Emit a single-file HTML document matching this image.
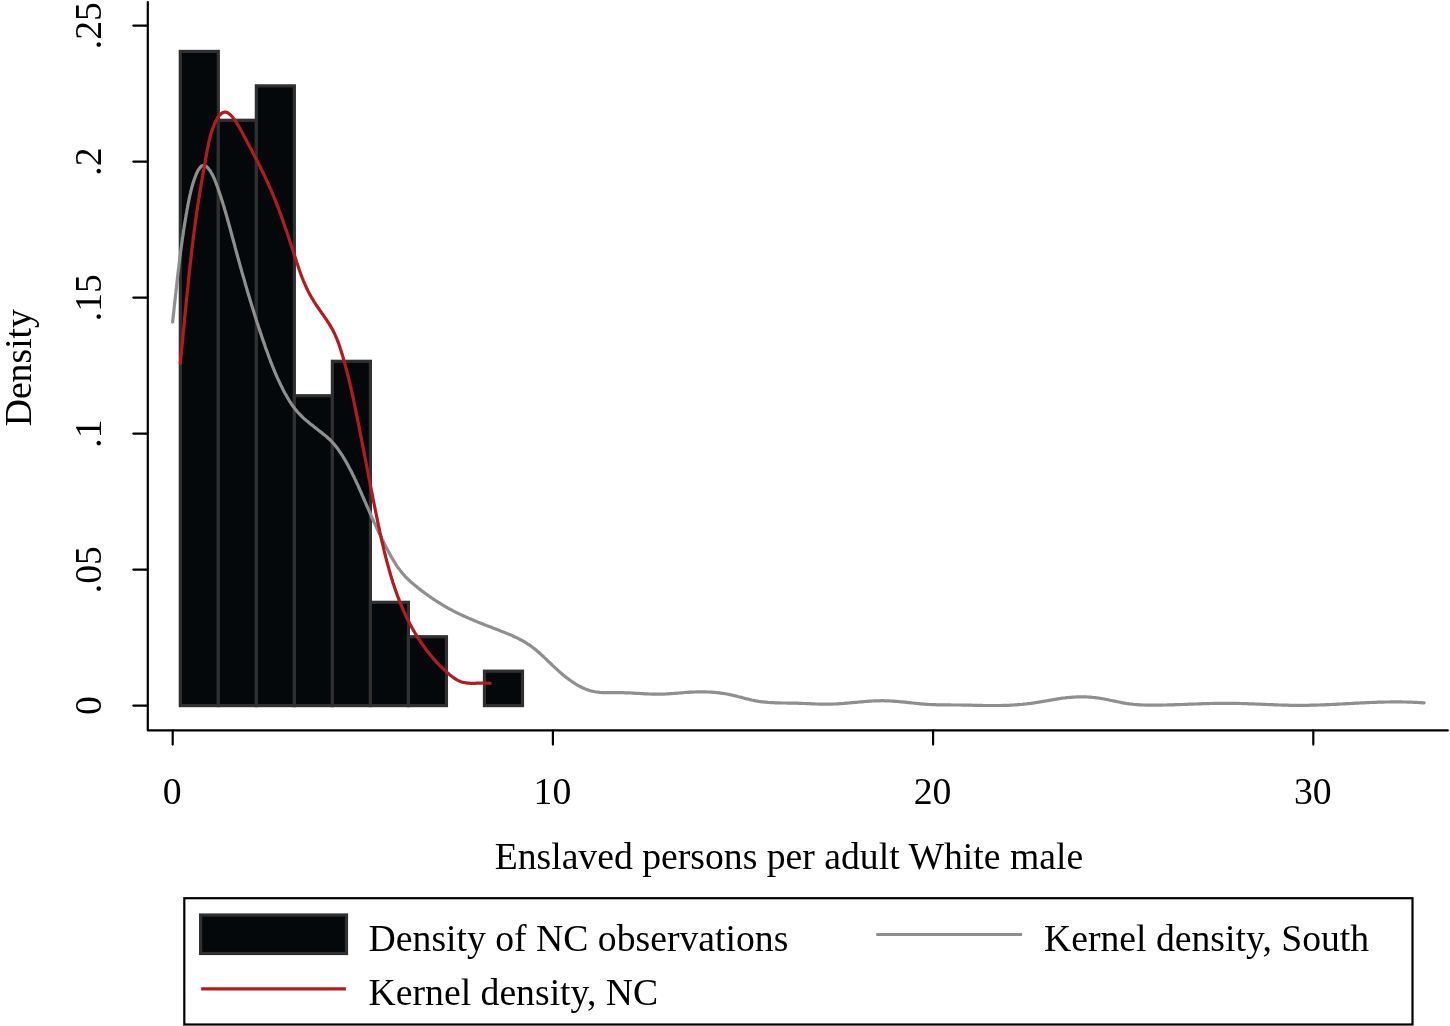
<!DOCTYPE html>
<html><head><meta charset="utf-8"><title>Density chart</title>
<style>
html,body{margin:0;padding:0;background:#fff;}
body{width:1450px;height:1026px;overflow:hidden;}
svg{display:block;will-change:transform;}
text{font-family:"Liberation Serif",serif;font-size:37.7px;fill:#000;}
.ax{stroke:#000;stroke-width:2.2;stroke-linecap:round;stroke-linejoin:round;}
.bars rect{fill:#04080a;stroke:#303030;stroke-width:3.2;}
</style></head>
<body>
<svg width="1450" height="1026" viewBox="0 0 1450 1026">
<rect x="0" y="0" width="1450" height="1026" fill="#fff"/>
<g class="bars">
<rect x="180.30" y="51.42" width="38.02" height="654.18"/>
<rect x="218.32" y="120.28" width="38.02" height="585.32"/>
<rect x="256.34" y="85.85" width="38.02" height="619.75"/>
<rect x="294.36" y="395.73" width="38.02" height="309.87"/>
<rect x="332.38" y="361.30" width="38.02" height="344.30"/>
<rect x="370.40" y="602.31" width="38.02" height="103.29"/>
<rect x="408.42" y="636.74" width="38.02" height="68.86"/>
<rect x="484.46" y="671.17" width="38.02" height="34.43"/>
</g>
<path d="M172.6,322.0 L172.8,320.5 L172.9,319.0 L173.1,317.5 L173.3,316.0 L173.4,314.5 L173.6,313.0 L173.8,311.5 L173.9,310.1 L174.1,308.6 L174.2,307.1 L174.4,305.6 L174.6,304.1 L174.7,302.6 L174.9,301.1 L175.1,299.6 L175.2,298.1 L175.4,296.6 L175.5,295.2 L175.7,293.7 L175.9,292.2 L176.0,290.7 L176.2,289.2 L176.4,287.7 L176.5,286.2 L176.7,284.7 L176.9,283.3 L177.0,281.8 L177.2,280.3 L177.4,278.8 L177.5,277.3 L177.7,275.8 L177.9,274.3 L178.0,272.9 L178.2,271.4 L178.4,269.9 L178.6,268.4 L178.8,266.9 L178.9,265.4 L179.1,263.9 L179.3,262.5 L179.5,261.0 L179.7,259.5 L179.8,258.0 L180.0,256.5 L180.2,255.0 L180.4,253.6 L180.6,252.1 L180.8,250.6 L181.0,249.1 L181.2,247.6 L181.4,246.1 L181.6,244.7 L181.8,243.2 L182.0,241.7 L182.2,240.2 L182.4,238.7 L182.6,237.2 L182.9,235.8 L183.1,234.3 L183.3,232.8 L183.5,231.3 L183.7,229.8 L184.0,228.3 L184.2,226.9 L184.4,225.4 L184.7,223.9 L184.9,222.4 L185.2,220.9 L185.4,219.4 L185.6,217.9 L185.9,216.5 L186.1,215.0 L186.4,213.5 L186.7,212.0 L186.9,210.5 L187.2,209.0 L187.5,207.5 L187.7,206.1 L188.0,204.6 L188.3,203.1 L188.6,201.6 L188.9,200.1 L189.2,198.7 L189.5,197.2 L189.8,195.7 L190.1,194.3 L190.5,192.8 L190.8,191.4 L191.2,189.9 L191.5,188.5 L191.9,187.1 L192.3,185.7 L192.7,184.3 L193.1,182.9 L193.6,181.6 L194.0,180.2 L194.5,178.9 L195.0,177.5 L195.5,176.2 L196.0,174.8 L196.7,173.3 L197.4,171.8 L198.1,170.3 L199.1,168.9 L200.1,167.5 L201.2,166.4 L202.4,165.6 L203.6,165.3 L204.8,165.5 L206.0,166.1 L207.2,167.2 L208.3,168.4 L209.3,169.8 L210.3,171.1 L211.1,172.5 L211.9,173.8 L212.6,175.1 L213.3,176.5 L213.9,177.8 L214.5,179.2 L215.0,180.5 L215.5,181.8 L216.1,183.2 L216.6,184.6 L217.1,186.0 L217.6,187.3 L218.1,188.7 L218.6,190.2 L219.0,191.6 L219.5,193.0 L220.0,194.4 L220.5,195.8 L221.0,197.3 L221.4,198.7 L221.9,200.1 L222.3,201.6 L222.8,203.0 L223.2,204.4 L223.7,205.9 L224.1,207.3 L224.5,208.7 L224.9,210.2 L225.4,211.6 L225.8,213.0 L226.2,214.5 L226.6,215.9 L227.0,217.4 L227.4,218.8 L227.8,220.2 L228.2,221.7 L228.6,223.1 L229.0,224.6 L229.4,226.0 L229.8,227.5 L230.2,228.9 L230.6,230.4 L231.0,231.8 L231.4,233.3 L231.8,234.7 L232.1,236.2 L232.5,237.6 L232.9,239.0 L233.3,240.5 L233.7,241.9 L234.1,243.4 L234.5,244.8 L234.9,246.3 L235.2,247.7 L235.6,249.2 L236.0,250.6 L236.4,252.1 L236.8,253.5 L237.2,255.0 L237.6,256.4 L238.0,257.9 L238.4,259.3 L238.8,260.7 L239.2,262.2 L239.6,263.6 L240.0,265.1 L240.4,266.5 L240.8,268.0 L241.2,269.4 L241.6,270.8 L242.0,272.3 L242.4,273.7 L242.8,275.2 L243.2,276.6 L243.7,278.1 L244.1,279.5 L244.5,280.9 L244.9,282.4 L245.3,283.8 L245.7,285.3 L246.2,286.7 L246.6,288.1 L247.0,289.6 L247.4,291.0 L247.8,292.5 L248.3,293.9 L248.7,295.3 L249.1,296.8 L249.6,298.2 L250.0,299.6 L250.4,301.1 L250.9,302.5 L251.3,303.9 L251.7,305.4 L252.2,306.8 L252.6,308.2 L253.1,309.7 L253.5,311.1 L254.0,312.5 L254.4,314.0 L254.9,315.4 L255.3,316.8 L255.8,318.2 L256.2,319.7 L256.7,321.1 L257.1,322.5 L257.6,323.9 L258.1,325.4 L258.5,326.8 L259.0,328.2 L259.5,329.6 L259.9,331.1 L260.4,332.5 L260.9,333.9 L261.4,335.3 L261.8,336.8 L262.3,338.2 L262.8,339.6 L263.3,341.0 L263.8,342.4 L264.3,343.8 L264.8,345.3 L265.2,346.7 L265.7,348.1 L266.2,349.5 L266.8,350.9 L267.3,352.3 L267.8,353.7 L268.3,355.1 L268.8,356.5 L269.3,357.9 L269.9,359.3 L270.4,360.7 L270.9,362.1 L271.5,363.5 L272.0,364.9 L272.6,366.3 L273.1,367.7 L273.7,369.1 L274.3,370.5 L274.8,371.9 L275.4,373.2 L276.0,374.6 L276.6,376.0 L277.2,377.4 L277.8,378.7 L278.5,380.1 L279.1,381.4 L279.7,382.8 L280.4,384.2 L281.0,385.5 L281.7,386.8 L282.4,388.2 L283.0,389.5 L283.7,390.9 L284.4,392.2 L285.1,393.5 L285.9,394.8 L286.6,396.1 L287.3,397.4 L288.1,398.7 L288.9,400.0 L289.7,401.3 L290.5,402.5 L291.3,403.8 L292.1,405.0 L293.0,406.2 L293.9,407.4 L294.8,408.6 L295.7,409.8 L296.7,410.9 L297.6,412.0 L298.6,413.1 L299.7,414.2 L300.7,415.3 L301.8,416.3 L302.8,417.4 L303.9,418.4 L305.1,419.4 L306.2,420.4 L307.3,421.3 L308.5,422.3 L309.6,423.3 L310.8,424.2 L312.0,425.1 L313.2,426.1 L314.3,427.0 L315.5,427.9 L316.7,428.8 L317.9,429.8 L319.1,430.7 L320.3,431.6 L321.5,432.5 L322.6,433.4 L323.8,434.4 L324.9,435.3 L326.1,436.3 L327.2,437.3 L328.3,438.3 L329.4,439.3 L330.5,440.3 L331.5,441.4 L332.5,442.4 L333.5,443.6 L334.5,444.7 L335.4,445.9 L336.4,447.0 L337.3,448.2 L338.2,449.4 L339.0,450.7 L339.9,451.9 L340.7,453.2 L341.6,454.4 L342.4,455.7 L343.2,457.0 L343.9,458.2 L344.7,459.5 L345.5,460.8 L346.2,462.1 L347.0,463.4 L347.7,464.7 L348.4,466.0 L349.1,467.4 L349.8,468.7 L350.5,470.0 L351.2,471.3 L351.9,472.7 L352.5,474.0 L353.2,475.4 L353.9,476.7 L354.5,478.1 L355.1,479.4 L355.8,480.8 L356.4,482.2 L357.0,483.5 L357.7,484.9 L358.3,486.2 L358.9,487.6 L359.5,489.0 L360.1,490.4 L360.7,491.7 L361.3,493.1 L361.9,494.5 L362.5,495.9 L363.1,497.2 L363.7,498.6 L364.3,500.0 L364.9,501.4 L365.5,502.7 L366.1,504.1 L366.7,505.5 L367.3,506.8 L367.9,508.2 L368.5,509.6 L369.1,510.9 L369.7,512.3 L370.3,513.7 L370.9,515.0 L371.5,516.4 L372.1,517.8 L372.7,519.1 L373.3,520.5 L373.9,521.9 L374.6,523.2 L375.2,524.6 L375.8,525.9 L376.4,527.3 L377.1,528.6 L377.7,530.0 L378.3,531.4 L379.0,532.7 L379.6,534.1 L380.3,535.4 L380.9,536.8 L381.6,538.1 L382.2,539.4 L382.9,540.8 L383.6,542.1 L384.3,543.5 L384.9,544.8 L385.6,546.2 L386.3,547.5 L387.0,548.8 L387.7,550.2 L388.4,551.5 L389.1,552.8 L389.8,554.1 L390.6,555.5 L391.3,556.8 L392.0,558.1 L392.8,559.4 L393.6,560.7 L394.4,562.0 L395.2,563.2 L396.0,564.5 L396.8,565.8 L397.6,567.0 L398.5,568.2 L399.4,569.4 L400.3,570.6 L401.2,571.8 L402.2,572.9 L403.1,574.1 L404.1,575.2 L405.1,576.3 L406.1,577.3 L407.2,578.4 L408.2,579.4 L409.3,580.5 L410.4,581.5 L411.5,582.5 L412.7,583.4 L413.8,584.4 L414.9,585.4 L416.1,586.3 L417.3,587.3 L418.4,588.2 L419.6,589.1 L420.8,590.1 L422.0,591.0 L423.2,591.9 L424.4,592.8 L425.6,593.7 L426.9,594.5 L428.1,595.4 L429.3,596.3 L430.5,597.1 L431.8,598.0 L433.0,598.8 L434.3,599.7 L435.5,600.5 L436.8,601.3 L438.1,602.1 L439.3,602.9 L440.6,603.7 L441.9,604.5 L443.2,605.3 L444.5,606.0 L445.8,606.8 L447.1,607.5 L448.4,608.3 L449.7,609.0 L451.0,609.7 L452.3,610.4 L453.7,611.1 L455.0,611.8 L456.3,612.5 L457.7,613.1 L459.0,613.8 L460.4,614.4 L461.7,615.1 L463.1,615.7 L464.4,616.3 L465.8,616.9 L467.2,617.5 L468.5,618.1 L469.9,618.7 L471.3,619.3 L472.7,619.9 L474.0,620.5 L475.4,621.0 L476.8,621.6 L478.2,622.2 L479.6,622.7 L481.0,623.3 L482.4,623.8 L483.7,624.4 L485.1,624.9 L486.5,625.5 L487.9,626.0 L489.3,626.6 L490.7,627.1 L492.1,627.6 L493.5,628.2 L494.9,628.7 L496.3,629.3 L497.7,629.8 L499.1,630.3 L500.5,630.9 L501.9,631.4 L503.3,632.0 L504.7,632.5 L506.1,633.1 L507.5,633.7 L508.9,634.2 L510.3,634.8 L511.7,635.4 L513.0,636.0 L514.4,636.7 L515.7,637.3 L517.1,637.9 L518.4,638.6 L519.8,639.3 L521.1,640.0 L522.4,640.7 L523.7,641.4 L525.0,642.2 L526.3,643.0 L527.5,643.8 L528.8,644.6 L530.0,645.4 L531.2,646.3 L532.4,647.2 L533.6,648.1 L534.8,649.0 L536.0,650.0 L537.1,651.0 L538.3,652.0 L539.4,653.0 L540.5,654.0 L541.6,655.0 L542.8,656.0 L543.9,657.1 L545.0,658.1 L546.0,659.1 L547.1,660.2 L548.2,661.2 L549.3,662.3 L550.4,663.3 L551.5,664.3 L552.5,665.4 L553.6,666.4 L554.7,667.4 L555.8,668.4 L556.9,669.4 L558.0,670.4 L559.1,671.4 L560.2,672.4 L561.3,673.3 L562.4,674.3 L563.5,675.2 L564.7,676.2 L565.8,677.1 L567.0,678.0 L568.2,678.9 L569.4,679.8 L570.6,680.7 L571.9,681.5 L573.1,682.4 L574.4,683.2 L575.7,684.0 L577.0,684.8 L578.4,685.6 L579.7,686.3 L581.1,687.0 L582.4,687.7 L583.8,688.3 L585.2,688.9 L586.7,689.5 L588.1,690.0 L589.5,690.5 L590.9,690.9 L592.4,691.2 L593.8,691.5 L595.3,691.8 L596.8,692.0 L598.2,692.2 L599.7,692.4 L601.2,692.5 L602.7,692.6 L604.1,692.6 L605.6,692.7 L607.1,692.7 L608.6,692.7 L610.1,692.7 L611.6,692.7 L613.1,692.7 L614.6,692.7 L616.1,692.7 L617.6,692.7 L619.1,692.7 L620.6,692.7 L622.1,692.7 L623.6,692.7 L625.1,692.8 L626.6,692.8 L628.1,692.9 L629.6,692.9 L631.1,693.0 L632.6,693.1 L634.1,693.2 L635.6,693.3 L637.1,693.3 L638.6,693.4 L640.1,693.5 L641.6,693.6 L643.1,693.7 L644.6,693.8 L646.1,693.8 L647.5,693.9 L649.0,694.0 L650.5,694.0 L652.0,694.1 L653.5,694.1 L655.0,694.2 L656.5,694.2 L658.0,694.2 L659.5,694.2 L661.0,694.1 L662.5,694.1 L664.0,694.1 L665.5,694.0 L667.0,693.9 L668.5,693.8 L670.0,693.7 L671.5,693.6 L673.0,693.5 L674.5,693.4 L676.0,693.3 L677.5,693.1 L679.0,693.0 L680.4,692.9 L681.9,692.8 L683.4,692.7 L684.9,692.5 L686.4,692.4 L687.9,692.3 L689.4,692.2 L690.9,692.2 L692.4,692.1 L693.9,692.0 L695.4,692.0 L696.9,691.9 L698.4,691.9 L699.9,691.9 L701.4,691.9 L702.9,691.9 L704.4,691.9 L705.9,691.9 L707.4,692.0 L708.9,692.0 L710.4,692.1 L711.8,692.2 L713.3,692.3 L714.8,692.4 L716.3,692.6 L717.8,692.7 L719.3,692.9 L720.8,693.1 L722.2,693.3 L723.7,693.5 L725.2,693.7 L726.7,694.0 L728.1,694.3 L729.6,694.6 L731.1,694.9 L732.5,695.2 L734.0,695.6 L735.5,695.9 L736.9,696.3 L738.4,696.7 L739.9,697.0 L741.3,697.4 L742.8,697.8 L744.2,698.2 L745.7,698.6 L747.2,698.9 L748.6,699.3 L750.1,699.6 L751.5,700.0 L753.0,700.3 L754.5,700.6 L756.0,700.9 L757.4,701.1 L758.9,701.4 L760.4,701.6 L761.9,701.8 L763.4,701.9 L764.8,702.1 L766.3,702.2 L767.8,702.4 L769.3,702.5 L770.8,702.6 L772.3,702.7 L773.8,702.7 L775.3,702.8 L776.8,702.8 L778.3,702.9 L779.8,702.9 L781.3,703.0 L782.8,703.0 L784.3,703.0 L785.8,703.0 L787.3,703.1 L788.8,703.1 L790.3,703.1 L791.8,703.1 L793.3,703.1 L794.8,703.2 L796.3,703.2 L797.8,703.2 L799.3,703.3 L800.8,703.3 L802.3,703.4 L803.8,703.5 L805.3,703.5 L806.8,703.6 L808.3,703.7 L809.8,703.7 L811.3,703.8 L812.8,703.9 L814.3,703.9 L815.8,704.0 L817.3,704.0 L818.8,704.1 L820.3,704.1 L821.8,704.2 L823.3,704.2 L824.8,704.2 L826.3,704.2 L827.7,704.2 L829.2,704.2 L830.7,704.1 L832.2,704.1 L833.7,704.0 L835.2,704.0 L836.7,703.9 L838.2,703.8 L839.7,703.7 L841.2,703.6 L842.7,703.5 L844.2,703.4 L845.7,703.2 L847.2,703.1 L848.7,703.0 L850.2,702.8 L851.7,702.7 L853.2,702.6 L854.7,702.4 L856.2,702.3 L857.7,702.2 L859.1,702.0 L860.6,701.9 L862.1,701.8 L863.6,701.6 L865.1,701.5 L866.6,701.4 L868.1,701.3 L869.6,701.2 L871.1,701.1 L872.6,701.0 L874.1,700.9 L875.6,700.9 L877.1,700.8 L878.6,700.8 L880.1,700.8 L881.6,700.7 L883.1,700.7 L884.6,700.8 L886.1,700.8 L887.6,700.8 L889.1,700.9 L890.6,701.0 L892.0,701.1 L893.5,701.2 L895.0,701.3 L896.5,701.4 L898.0,701.5 L899.5,701.7 L901.0,701.8 L902.5,701.9 L904.0,702.1 L905.5,702.2 L907.0,702.4 L908.5,702.6 L910.0,702.7 L911.5,702.9 L913.0,703.0 L914.5,703.2 L916.0,703.3 L917.5,703.5 L919.0,703.6 L920.5,703.8 L921.9,703.9 L923.4,704.1 L924.9,704.2 L926.4,704.3 L927.9,704.4 L929.4,704.5 L930.9,704.6 L932.4,704.6 L933.9,704.7 L935.4,704.7 L936.9,704.8 L938.4,704.8 L939.9,704.8 L941.4,704.9 L942.9,704.9 L944.4,704.9 L945.9,704.9 L947.4,704.9 L948.9,704.9 L950.3,704.9 L951.8,705.0 L953.3,705.0 L954.8,705.0 L956.3,705.0 L957.8,705.0 L959.3,705.0 L960.8,705.0 L962.3,705.1 L963.8,705.1 L965.3,705.1 L966.8,705.1 L968.3,705.2 L969.8,705.2 L971.3,705.2 L972.8,705.3 L974.3,705.3 L975.8,705.3 L977.3,705.4 L978.9,705.4 L980.4,705.4 L981.9,705.4 L983.4,705.5 L984.9,705.5 L986.4,705.5 L987.9,705.5 L989.4,705.5 L990.9,705.5 L992.4,705.5 L993.9,705.5 L995.4,705.5 L996.9,705.5 L998.4,705.5 L999.9,705.5 L1001.4,705.5 L1002.9,705.4 L1004.4,705.4 L1005.9,705.4 L1007.4,705.3 L1008.9,705.3 L1010.3,705.2 L1011.8,705.1 L1013.3,705.0 L1014.8,704.9 L1016.3,704.8 L1017.8,704.7 L1019.3,704.6 L1020.8,704.5 L1022.3,704.4 L1023.8,704.2 L1025.3,704.0 L1026.7,703.9 L1028.2,703.7 L1029.7,703.5 L1031.2,703.3 L1032.7,703.1 L1034.2,702.9 L1035.6,702.6 L1037.1,702.4 L1038.6,702.2 L1040.1,701.9 L1041.6,701.7 L1043.0,701.4 L1044.5,701.1 L1046.0,700.9 L1047.5,700.6 L1049.0,700.4 L1050.4,700.1 L1051.9,699.9 L1053.4,699.6 L1054.9,699.4 L1056.4,699.1 L1057.8,698.9 L1059.3,698.7 L1060.8,698.4 L1062.3,698.2 L1063.8,698.0 L1065.3,697.9 L1066.7,697.7 L1068.2,697.5 L1069.7,697.4 L1071.2,697.3 L1072.7,697.2 L1074.2,697.1 L1075.7,697.0 L1077.2,696.9 L1078.7,696.9 L1080.2,696.9 L1081.7,696.9 L1083.2,696.9 L1084.7,696.9 L1086.1,696.9 L1087.6,697.0 L1089.1,697.1 L1090.6,697.2 L1092.1,697.3 L1093.6,697.5 L1095.1,697.6 L1096.6,697.8 L1098.1,698.0 L1099.5,698.2 L1101.0,698.5 L1102.5,698.7 L1104.0,699.0 L1105.5,699.3 L1106.9,699.5 L1108.4,699.8 L1109.9,700.2 L1111.4,700.5 L1112.8,700.8 L1114.3,701.1 L1115.8,701.4 L1117.2,701.7 L1118.7,702.0 L1120.2,702.3 L1121.7,702.6 L1123.1,702.9 L1124.6,703.1 L1126.1,703.4 L1127.6,703.6 L1129.1,703.8 L1130.6,704.0 L1132.0,704.2 L1133.5,704.4 L1135.0,704.5 L1136.5,704.6 L1138.0,704.7 L1139.5,704.8 L1141.0,704.9 L1142.5,705.0 L1144.0,705.0 L1145.5,705.1 L1147.0,705.1 L1148.5,705.1 L1150.0,705.2 L1151.5,705.2 L1153.0,705.2 L1154.5,705.2 L1156.0,705.2 L1157.5,705.1 L1159.0,705.1 L1160.5,705.1 L1162.0,705.1 L1163.5,705.0 L1165.0,705.0 L1166.5,705.0 L1168.0,704.9 L1169.5,704.9 L1171.0,704.9 L1172.5,704.8 L1174.0,704.8 L1175.5,704.7 L1177.0,704.7 L1178.5,704.6 L1180.0,704.6 L1181.5,704.5 L1183.0,704.5 L1184.5,704.4 L1186.0,704.3 L1187.4,704.3 L1188.9,704.2 L1190.4,704.2 L1191.9,704.1 L1193.4,704.1 L1194.9,704.0 L1196.4,704.0 L1197.9,703.9 L1199.4,703.8 L1200.9,703.8 L1202.4,703.7 L1203.9,703.7 L1205.4,703.6 L1206.9,703.6 L1208.4,703.6 L1209.9,703.5 L1211.4,703.5 L1212.9,703.4 L1214.4,703.4 L1215.9,703.4 L1217.4,703.4 L1218.9,703.3 L1220.4,703.3 L1221.9,703.3 L1223.4,703.3 L1224.9,703.3 L1226.4,703.3 L1227.9,703.3 L1229.4,703.3 L1230.9,703.3 L1232.4,703.3 L1233.9,703.4 L1235.4,703.4 L1236.9,703.4 L1238.4,703.4 L1239.9,703.5 L1241.3,703.5 L1242.8,703.6 L1244.3,703.6 L1245.8,703.7 L1247.3,703.7 L1248.8,703.8 L1250.3,703.8 L1251.8,703.9 L1253.3,703.9 L1254.8,704.0 L1256.3,704.1 L1257.8,704.1 L1259.3,704.2 L1260.8,704.2 L1262.3,704.3 L1263.8,704.4 L1265.3,704.4 L1266.8,704.5 L1268.3,704.6 L1269.8,704.6 L1271.3,704.7 L1272.8,704.7 L1274.3,704.8 L1275.8,704.9 L1277.3,704.9 L1278.8,705.0 L1280.3,705.0 L1281.8,705.1 L1283.3,705.1 L1284.8,705.2 L1286.3,705.2 L1287.8,705.2 L1289.3,705.3 L1290.8,705.3 L1292.3,705.3 L1293.8,705.3 L1295.3,705.3 L1296.8,705.4 L1298.3,705.4 L1299.8,705.4 L1301.3,705.4 L1302.8,705.4 L1304.3,705.3 L1305.8,705.3 L1307.3,705.3 L1308.8,705.3 L1310.3,705.2 L1311.8,705.2 L1313.3,705.2 L1314.8,705.1 L1316.3,705.1 L1317.8,705.0 L1319.3,705.0 L1320.7,704.9 L1322.2,704.9 L1323.7,704.8 L1325.2,704.8 L1326.7,704.7 L1328.2,704.6 L1329.7,704.6 L1331.2,704.5 L1332.7,704.4 L1334.2,704.3 L1335.7,704.3 L1337.2,704.2 L1338.7,704.1 L1340.2,704.0 L1341.7,704.0 L1343.2,703.9 L1344.7,703.8 L1346.2,703.7 L1347.7,703.6 L1349.2,703.6 L1350.7,703.5 L1352.2,703.4 L1353.7,703.3 L1355.2,703.2 L1356.7,703.2 L1358.2,703.1 L1359.7,703.0 L1361.2,702.9 L1362.7,702.9 L1364.2,702.8 L1365.7,702.7 L1367.2,702.7 L1368.7,702.6 L1370.2,702.5 L1371.7,702.5 L1373.2,702.4 L1374.7,702.4 L1376.2,702.3 L1377.7,702.2 L1379.1,702.2 L1380.6,702.2 L1382.1,702.1 L1383.6,702.1 L1385.1,702.0 L1386.6,702.0 L1388.1,702.0 L1389.6,702.0 L1391.1,701.9 L1392.6,701.9 L1394.1,701.9 L1395.6,701.9 L1397.1,701.9 L1398.6,701.9 L1400.1,701.9 L1401.6,701.9 L1403.1,702.0 L1404.6,702.0 L1406.1,702.0 L1407.6,702.1 L1409.1,702.1 L1410.6,702.2 L1412.1,702.2 L1413.6,702.3 L1415.1,702.3 L1416.6,702.4 L1418.1,702.5 L1419.6,702.6 L1421.1,702.7 L1422.6,702.8 L1424.1,702.9" fill="none" stroke="#8f8f8f" stroke-width="3.2" stroke-linecap="round" stroke-linejoin="round"/>
<path d="M180.3,363.3 L180.5,361.8 L180.6,360.3 L180.7,358.8 L180.9,357.3 L181.0,355.8 L181.2,354.4 L181.3,352.9 L181.5,351.4 L181.6,349.9 L181.8,348.4 L181.9,346.9 L182.1,345.4 L182.2,343.9 L182.4,342.4 L182.5,340.9 L182.7,339.4 L182.8,337.9 L182.9,336.4 L183.1,335.0 L183.2,333.5 L183.4,332.0 L183.5,330.5 L183.7,329.0 L183.8,327.5 L184.0,326.0 L184.1,324.5 L184.2,323.0 L184.4,321.5 L184.5,320.0 L184.7,318.5 L184.8,317.0 L185.0,315.6 L185.1,314.1 L185.3,312.6 L185.4,311.1 L185.5,309.6 L185.7,308.1 L185.8,306.6 L186.0,305.1 L186.1,303.6 L186.3,302.1 L186.4,300.6 L186.6,299.1 L186.7,297.6 L186.9,296.2 L187.0,294.7 L187.2,293.2 L187.3,291.7 L187.5,290.2 L187.6,288.7 L187.8,287.2 L187.9,285.7 L188.1,284.2 L188.2,282.7 L188.4,281.2 L188.5,279.8 L188.7,278.3 L188.9,276.8 L189.0,275.3 L189.2,273.8 L189.3,272.3 L189.5,270.8 L189.7,269.3 L189.8,267.8 L190.0,266.3 L190.1,264.8 L190.3,263.4 L190.5,261.9 L190.6,260.4 L190.8,258.9 L191.0,257.4 L191.2,255.9 L191.3,254.4 L191.5,252.9 L191.7,251.4 L191.9,250.0 L192.0,248.5 L192.2,247.0 L192.4,245.5 L192.6,244.0 L192.8,242.5 L192.9,241.0 L193.1,239.5 L193.3,238.1 L193.5,236.6 L193.7,235.1 L193.9,233.6 L194.1,232.1 L194.3,230.6 L194.5,229.1 L194.7,227.7 L194.9,226.2 L195.1,224.7 L195.3,223.2 L195.5,221.7 L195.7,220.2 L195.9,218.8 L196.1,217.3 L196.3,215.8 L196.5,214.3 L196.7,212.8 L196.9,211.3 L197.2,209.9 L197.4,208.4 L197.6,206.9 L197.8,205.4 L198.0,203.9 L198.3,202.5 L198.5,201.0 L198.7,199.5 L199.0,198.0 L199.2,196.5 L199.4,195.1 L199.7,193.6 L199.9,192.1 L200.2,190.6 L200.4,189.1 L200.6,187.7 L200.9,186.2 L201.1,184.7 L201.4,183.2 L201.6,181.8 L201.9,180.3 L202.2,178.8 L202.4,177.3 L202.7,175.8 L202.9,174.4 L203.2,172.9 L203.4,171.4 L203.7,169.9 L204.0,168.5 L204.2,167.0 L204.5,165.5 L204.7,164.0 L205.0,162.6 L205.3,161.1 L205.5,159.6 L205.8,158.1 L206.1,156.7 L206.3,155.2 L206.6,153.7 L206.9,152.3 L207.1,150.8 L207.4,149.3 L207.7,147.8 L208.0,146.4 L208.3,144.9 L208.6,143.4 L208.9,142.0 L209.2,140.5 L209.6,139.1 L209.9,137.6 L210.3,136.2 L210.7,134.7 L211.1,133.3 L211.5,131.9 L212.0,130.5 L212.5,129.1 L213.0,127.7 L213.6,126.3 L214.1,124.9 L214.7,123.5 L215.4,122.1 L216.0,120.8 L216.8,119.4 L217.5,118.1 L218.3,116.8 L219.3,115.6 L220.3,114.4 L221.5,113.4 L222.8,112.6 L224.2,112.2 L225.6,112.1 L227.0,112.5 L228.3,113.2 L229.6,114.1 L230.7,115.2 L231.8,116.3 L232.8,117.5 L233.8,118.7 L234.7,119.9 L235.5,121.2 L236.3,122.4 L237.1,123.7 L237.9,125.0 L238.7,126.3 L239.4,127.5 L240.1,128.8 L240.8,130.1 L241.6,131.4 L242.3,132.7 L243.0,134.0 L243.7,135.4 L244.4,136.7 L245.1,138.0 L245.8,139.3 L246.5,140.6 L247.2,141.9 L247.9,143.2 L248.6,144.5 L249.3,145.9 L250.0,147.2 L250.7,148.5 L251.4,149.8 L252.1,151.1 L252.8,152.5 L253.4,153.8 L254.1,155.1 L254.8,156.5 L255.5,157.8 L256.2,159.1 L256.9,160.4 L257.6,161.8 L258.3,163.1 L258.9,164.5 L259.6,165.8 L260.3,167.1 L261.0,168.5 L261.6,169.8 L262.3,171.2 L263.0,172.5 L263.6,173.9 L264.3,175.2 L264.9,176.6 L265.6,177.9 L266.2,179.3 L266.8,180.7 L267.5,182.0 L268.1,183.4 L268.7,184.8 L269.3,186.1 L269.9,187.5 L270.5,188.9 L271.1,190.2 L271.7,191.6 L272.3,193.0 L272.9,194.4 L273.5,195.8 L274.0,197.1 L274.6,198.5 L275.1,199.9 L275.7,201.3 L276.2,202.7 L276.8,204.1 L277.3,205.5 L277.9,206.9 L278.4,208.3 L278.9,209.7 L279.4,211.1 L280.0,212.5 L280.5,213.9 L281.0,215.3 L281.5,216.7 L282.0,218.1 L282.5,219.5 L283.0,220.9 L283.5,222.3 L284.0,223.7 L284.5,225.2 L285.0,226.6 L285.4,228.0 L285.9,229.4 L286.4,230.8 L286.9,232.2 L287.4,233.7 L287.8,235.1 L288.3,236.5 L288.8,237.9 L289.3,239.4 L289.7,240.8 L290.2,242.2 L290.7,243.6 L291.1,245.1 L291.6,246.5 L292.1,247.9 L292.5,249.3 L293.0,250.8 L293.5,252.2 L293.9,253.6 L294.4,255.0 L294.9,256.5 L295.3,257.9 L295.8,259.3 L296.3,260.8 L296.7,262.2 L297.2,263.6 L297.7,265.0 L298.2,266.5 L298.6,267.9 L299.1,269.3 L299.6,270.7 L300.1,272.1 L300.6,273.6 L301.1,275.0 L301.7,276.4 L302.2,277.8 L302.8,279.2 L303.3,280.6 L303.9,281.9 L304.5,283.3 L305.1,284.7 L305.7,286.0 L306.3,287.4 L306.9,288.8 L307.6,290.1 L308.2,291.4 L308.9,292.7 L309.6,294.1 L310.3,295.4 L311.1,296.7 L311.8,298.0 L312.6,299.2 L313.4,300.5 L314.2,301.8 L315.0,303.0 L315.8,304.3 L316.6,305.5 L317.5,306.8 L318.3,308.0 L319.2,309.3 L320.0,310.5 L320.9,311.7 L321.7,313.0 L322.6,314.2 L323.5,315.4 L324.3,316.6 L325.2,317.9 L326.0,319.1 L326.9,320.4 L327.7,321.6 L328.5,322.9 L329.3,324.1 L330.1,325.4 L330.9,326.7 L331.6,328.0 L332.3,329.3 L333.0,330.6 L333.7,331.9 L334.4,333.2 L335.0,334.6 L335.6,335.9 L336.2,337.3 L336.8,338.7 L337.3,340.1 L337.9,341.5 L338.4,342.9 L338.9,344.3 L339.4,345.7 L339.9,347.1 L340.3,348.5 L340.8,350.0 L341.2,351.4 L341.7,352.8 L342.1,354.3 L342.6,355.7 L343.0,357.1 L343.4,358.6 L343.8,360.0 L344.2,361.5 L344.6,362.9 L345.0,364.4 L345.4,365.8 L345.8,367.3 L346.2,368.7 L346.6,370.2 L347.0,371.6 L347.3,373.1 L347.7,374.6 L348.1,376.0 L348.4,377.5 L348.8,378.9 L349.2,380.4 L349.5,381.9 L349.9,383.3 L350.2,384.8 L350.5,386.2 L350.9,387.7 L351.2,389.2 L351.5,390.6 L351.9,392.1 L352.2,393.6 L352.5,395.0 L352.8,396.5 L353.2,398.0 L353.5,399.5 L353.8,400.9 L354.1,402.4 L354.4,403.9 L354.7,405.3 L355.0,406.8 L355.3,408.3 L355.6,409.7 L355.9,411.2 L356.2,412.7 L356.5,414.2 L356.8,415.6 L357.1,417.1 L357.4,418.6 L357.7,420.0 L358.0,421.5 L358.3,423.0 L358.6,424.4 L358.9,425.9 L359.2,427.4 L359.4,428.8 L359.7,430.3 L360.0,431.8 L360.3,433.2 L360.6,434.7 L360.9,436.2 L361.2,437.6 L361.5,439.1 L361.7,440.6 L362.0,442.0 L362.3,443.5 L362.6,445.0 L362.9,446.4 L363.2,447.9 L363.4,449.3 L363.7,450.8 L364.0,452.3 L364.3,453.7 L364.6,455.2 L364.9,456.7 L365.1,458.1 L365.4,459.6 L365.7,461.1 L366.0,462.5 L366.3,464.0 L366.6,465.4 L366.8,466.9 L367.1,468.4 L367.4,469.8 L367.7,471.3 L368.0,472.8 L368.3,474.2 L368.5,475.7 L368.8,477.2 L369.1,478.6 L369.4,480.1 L369.7,481.5 L370.0,483.0 L370.3,484.5 L370.5,485.9 L370.8,487.4 L371.1,488.9 L371.4,490.3 L371.7,491.8 L372.0,493.3 L372.3,494.7 L372.6,496.2 L372.9,497.7 L373.1,499.1 L373.4,500.6 L373.7,502.1 L374.0,503.5 L374.3,505.0 L374.6,506.5 L374.9,507.9 L375.2,509.4 L375.5,510.9 L375.8,512.3 L376.1,513.8 L376.4,515.3 L376.7,516.8 L377.0,518.2 L377.3,519.7 L377.6,521.2 L377.9,522.6 L378.2,524.1 L378.5,525.6 L378.9,527.1 L379.2,528.5 L379.5,530.0 L379.8,531.5 L380.1,533.0 L380.4,534.4 L380.8,535.9 L381.1,537.4 L381.4,538.9 L381.7,540.3 L382.1,541.8 L382.4,543.3 L382.8,544.7 L383.1,546.2 L383.4,547.7 L383.8,549.1 L384.1,550.6 L384.5,552.1 L384.8,553.5 L385.2,555.0 L385.6,556.5 L385.9,557.9 L386.3,559.4 L386.7,560.9 L387.1,562.3 L387.5,563.8 L387.9,565.2 L388.3,566.7 L388.7,568.1 L389.1,569.6 L389.5,571.0 L389.9,572.5 L390.3,573.9 L390.7,575.3 L391.2,576.8 L391.6,578.2 L392.0,579.6 L392.5,581.1 L392.9,582.5 L393.4,583.9 L393.9,585.3 L394.3,586.8 L394.8,588.2 L395.3,589.6 L395.8,591.0 L396.3,592.4 L396.8,593.8 L397.3,595.2 L397.8,596.6 L398.4,598.0 L398.9,599.4 L399.4,600.8 L400.0,602.2 L400.5,603.5 L401.1,604.9 L401.7,606.3 L402.3,607.7 L402.8,609.0 L403.4,610.4 L404.0,611.7 L404.7,613.1 L405.3,614.4 L405.9,615.8 L406.5,617.1 L407.2,618.5 L407.8,619.8 L408.5,621.1 L409.2,622.4 L409.9,623.8 L410.6,625.1 L411.3,626.4 L412.0,627.7 L412.7,629.0 L413.4,630.3 L414.2,631.5 L414.9,632.8 L415.7,634.1 L416.5,635.4 L417.2,636.6 L418.0,637.9 L418.8,639.1 L419.7,640.4 L420.5,641.6 L421.3,642.9 L422.2,644.1 L423.0,645.3 L423.9,646.5 L424.8,647.7 L425.7,649.0 L426.6,650.2 L427.5,651.3 L428.4,652.5 L429.4,653.7 L430.3,654.9 L431.3,656.0 L432.3,657.2 L433.2,658.4 L434.2,659.5 L435.3,660.6 L436.3,661.8 L437.3,662.9 L438.4,664.0 L439.4,665.1 L440.5,666.2 L441.6,667.2 L442.7,668.3 L443.8,669.4 L444.9,670.4 L446.0,671.4 L447.1,672.4 L448.3,673.4 L449.4,674.4 L450.6,675.4 L451.7,676.3 L452.9,677.2 L454.1,678.1 L455.4,678.9 L456.6,679.7 L457.9,680.4 L459.2,681.0 L460.5,681.5 L461.9,682.0 L463.3,682.4 L464.7,682.7 L466.2,682.9 L467.7,683.1 L469.2,683.2 L470.7,683.3 L472.2,683.3 L473.8,683.3 L475.3,683.3 L476.8,683.2 L478.4,683.2 L479.9,683.1 L481.4,683.1 L483.0,683.0 L484.5,683.0 L486.0,683.0 L487.4,683.1 L488.9,683.2 L490.3,683.3" fill="none" stroke="#b31b23" stroke-width="3.2" stroke-linecap="round" stroke-linejoin="round"/>
<path d="M147.8,2.1 L147.8,730.4 L1447.8,730.4" fill="none" class="ax"/>
<line x1="133.3" y1="705.60" x2="147.8" y2="705.60" class="ax"/>
<text transform="translate(100.8,705.60) rotate(-90)" text-anchor="middle">0</text>
<line x1="133.3" y1="569.60" x2="147.8" y2="569.60" class="ax"/>
<text transform="translate(100.8,569.60) rotate(-90)" text-anchor="middle">.05</text>
<line x1="133.3" y1="433.60" x2="147.8" y2="433.60" class="ax"/>
<text transform="translate(100.8,433.60) rotate(-90)" text-anchor="middle">.1</text>
<line x1="133.3" y1="297.60" x2="147.8" y2="297.60" class="ax"/>
<text transform="translate(100.8,297.60) rotate(-90)" text-anchor="middle">.15</text>
<line x1="133.3" y1="161.60" x2="147.8" y2="161.60" class="ax"/>
<text transform="translate(100.8,161.60) rotate(-90)" text-anchor="middle">.2</text>
<line x1="133.3" y1="25.60" x2="147.8" y2="25.60" class="ax"/>
<text transform="translate(100.8,25.60) rotate(-90)" text-anchor="middle">.25</text>
<line x1="172.70" y1="730.4" x2="172.70" y2="744.6" class="ax"/>
<text x="172.20" y="803.7" text-anchor="middle">0</text>
<line x1="552.90" y1="730.4" x2="552.90" y2="744.6" class="ax"/>
<text x="552.40" y="803.7" text-anchor="middle">10</text>
<line x1="933.10" y1="730.4" x2="933.10" y2="744.6" class="ax"/>
<text x="932.60" y="803.7" text-anchor="middle">20</text>
<line x1="1313.30" y1="730.4" x2="1313.30" y2="744.6" class="ax"/>
<text x="1312.80" y="803.7" text-anchor="middle">30</text>
<text transform="translate(31.2,367.7) rotate(-90)" text-anchor="middle">Density</text>
<text x="788.9" y="868.7" text-anchor="middle">Enslaved persons per adult White male</text>
<rect x="184.3" y="898.2" width="1228.2" height="126.3" fill="none" stroke="#000" stroke-width="2.2"/>
<rect x="200.6" y="915" width="145.9" height="38.5" fill="#04080a" stroke="#303030" stroke-width="3.2"/>
<line x1="201.2" y1="988.8" x2="345.9" y2="988.8" stroke="#b31b23" stroke-width="3.2"/>
<line x1="876.3" y1="934.5" x2="1022.1" y2="934.5" stroke="#8f8f8f" stroke-width="3.2"/>
<text x="368.6" y="951">Density of NC observations</text>
<text x="368.6" y="1005.2">Kernel density, NC</text>
<text x="1044.0" y="951">Kernel density, South</text>
</svg>
</body></html>
